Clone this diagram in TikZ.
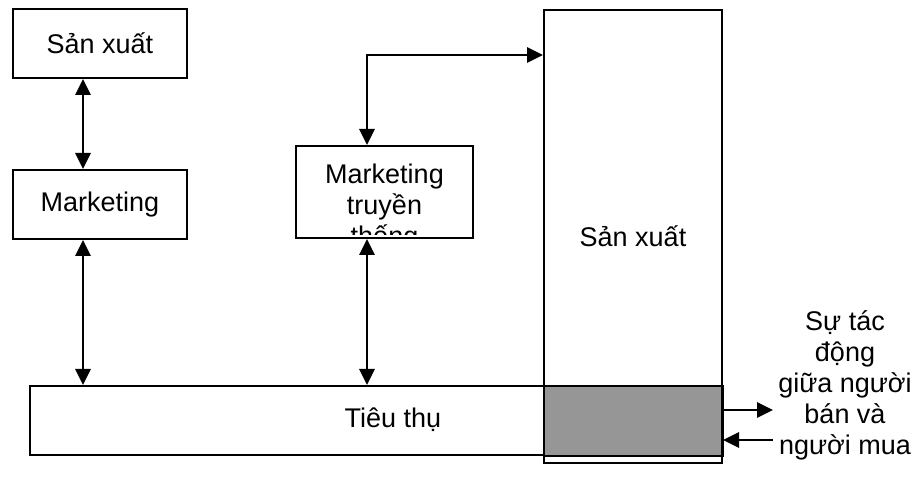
\documentclass[tikz,border=0pt]{standalone}
\usepackage{fontspec}
\setmainfont{Liberation Sans}
\usetikzlibrary{arrows.meta, positioning}

\begin{document}
\begin{tikzpicture}[x=0.5pt,y=-0.5pt,line width=1pt,
 >={Triangle[length=8pt,width=7.5pt]},
 font=\fontsize{13.5}{15.5}\selectfont,
 box node/.style={rectangle,draw,inner sep=0pt,align=center},
 small box/.style={box node,minimum width=87pt,minimum height=34.5pt},
 link/.style={line width=1.4pt}]
  \useasboundingbox (0,0) rectangle (914,490);

  \node[small box] (sx) at (100,43.5) {Sản xuất};
  \node[small box] (mk) [below=45pt of sx] {Marketing};
  \node[box node,minimum width=88.5pt,minimum height=46pt] (mktt) at (384.5,192) {};
  \node[box node,minimum width=346pt,minimum height=34.5pt] (tt) at (376,420.5)
    {\raisebox{3pt}{\hspace*{17pt}Tiêu thụ}};
  \filldraw[fill=black!41] (544,386) rectangle (tt.south east);
  \node[box node,minimum width=89pt,minimum height=226.5pt] (sx2) at (633,236.5) {Sản xuất};

  % text of the clipped box
  \begin{scope}
    \clip (mktt.north west) rectangle ([yshift=2pt]mktt.south east);
    \node[align=center,inner sep=0pt] (mkttlbl) at ([yshift=-8pt]mktt.center)
      {Marketing\\truyền\\thống};
  \end{scope}

  \node[align=center,inner sep=0pt] (tacdong) at (845,385)
    {Sự tác\\động\\giữa người\\bán và\\người mua};

  \coordinate (bend) at (367,55);
  \coordinate (outR) at (773,410);
  \coordinate (inR) at (773,440);

  \draw[link,<->] ([xshift=-8.5pt]sx.south) -- ([xshift=-8.5pt]mk.north);
  \draw[link,<->] ([xshift=-8.5pt]mk.south) -- ([xshift=-8.5pt]mk.south |- tt.north);
  \draw[link,<->] ([xshift=-8.75pt]mktt.south) -- ([xshift=-8.75pt]mktt.south |- tt.north);
  \draw[link,<->] ([xshift=-8.75pt]mktt.north) -- (bend) -- (bend -| sx2.west);
  \draw[link,->] (outR -| sx2.east) -- (outR);
  \draw[link,->] (inR) -- (inR -| sx2.east);
\end{tikzpicture}
\end{document}
